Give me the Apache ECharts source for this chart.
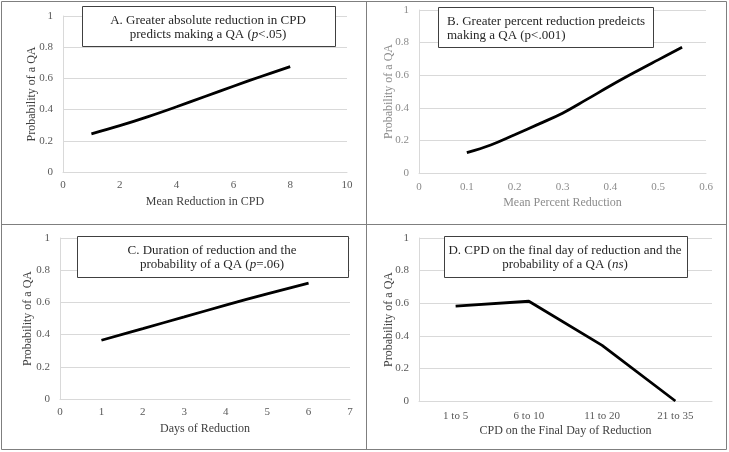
<!DOCTYPE html>
<html>
<head>
<meta charset="utf-8">
<script src="https://cdn.jsdelivr.net/npm/echarts@6/dist/echarts.min.js"></script>
<style>
html,body{margin:0;padding:0;background:#fff;}
#chart{width:729px;height:452px;}
</style>
</head>
<body>
<div id="chart"></div>
<script>
// Panel A: Mean Reduction in CPD
var aX = [1, 2, 3, 4, 5, 6, 7, 8];
var aY = [0.245, 0.297, 0.355, 0.418, 0.484, 0.55, 0.614, 0.675];
// Panel B: Mean Percent Reduction
var bX = [0.1, 0.15, 0.2, 0.25, 0.3, 0.35, 0.4, 0.45, 0.5, 0.55];
var bY = [0.125, 0.172, 0.235, 0.300, 0.367, 0.450, 0.535, 0.616, 0.694, 0.771];
// Panel C: Days of Reduction
var cX = [1, 2, 3, 4, 5, 6];
var cY = [0.365, 0.437, 0.51, 0.583, 0.653, 0.72];
// Panel D: CPD on the Final Day of Reduction
var dCats = ['1 to 5', '6 to 10', '11 to 20', '21 to 35'];
var dY = [0.582, 0.612, 0.341, 0.0];

var yTitle = 'Probability of a QA';
var xTitles = ['Mean Reduction in CPD', 'Mean Percent Reduction', 'Days of Reduction', 'CPD on the Final Day of Reduction'];

var FONT = '"Liberation Serif", "DejaVu Serif", serif';
var dark = '#595959', darkName = '#404040', light = '#8c8c8c';
var gridC = '#d9d9d9';

function pairs(xs, ys){ return xs.map(function(x,i){return [x, ys[i]];}); }

function yAx(idx, color, gap, margin){
  return {
    gridIndex: idx, type: 'value', min: 0, max: 1, interval: 0.2,
    name: yTitle, nameLocation: 'middle', nameRotate: 90, nameGap: gap,
    nameMoveOverlap: false,
    nameTextStyle: {color: color.name, fontFamily: FONT, fontSize: 12},
    axisLine: {show: true, lineStyle: {color: gridC, width: 1}},
    axisTick: {show: false},
    axisLabel: {color: color.tick, fontFamily: FONT, fontSize: 11, margin: margin},
    splitLine: {show: true, lineStyle: {color: gridC, width: 1}}
  };
}
function xAx(idx, opts, color, margin, gap){
  var o = {
    gridIndex: idx,
    name: xTitles[idx], nameLocation: 'middle', nameGap: gap,
    nameMoveOverlap: false,
    nameTextStyle: {color: color.name, fontFamily: FONT, fontSize: 12},
    axisLine: {show: true, onZero: false, lineStyle: {color: gridC, width: 1}},
    axisTick: {show: false},
    axisLabel: {color: color.tick, fontFamily: FONT, fontSize: 11, margin: margin},
    splitLine: {show: false}
  };
  for (var k in opts) o[k] = opts[k];
  return o;
}
var cDark = {tick: dark, name: darkName};
var cLight = {tick: light, name: light};

function titleBox(x, y, w, h, lines, align, textX){
  var children = [{
    type: 'rect', z: 100, shape: {x: x + 0.5, y: y + 0.5, width: w, height: h},
    style: {fill: '#fff', stroke: '#404040', lineWidth: 1}
  }];
  lines.forEach(function(l, i){
    children.push({
      type: 'text', z: 101, x: textX, y: y + 15 + i * 14,
      style: {
        text: l, fill: '#262626', font: '13px ' + FONT,
        align: align, verticalAlign: 'middle',
        rich: {
          n: {fontFamily: FONT, fontSize: 13, fill: '#262626'},
          i: {fontFamily: FONT, fontSize: 13, fontStyle: 'italic', fill: '#262626'}
        }
      }
    });
  });
  return {type: 'group', children: children, z: 100};
}

var lineStyle = {color: '#000', width: 2.8};

var option = {
  animation: false,
  backgroundColor: '#fff',
  grid: [
    {left: 63, top: 16, width: 284, height: 156},
    {left: 419, top: 10, width: 287, height: 163},
    {left: 60, top: 238, width: 290, height: 161},
    {left: 419, top: 238, width: 293, height: 163}
  ],
  xAxis: [
    xAx(0, {type: 'value', min: 0, max: 10, interval: 2}, cDark, 8, 24),
    xAx(1, {type: 'value', min: 0, max: 0.6, interval: 0.1}, cLight, 9, 24),
    xAx(2, {type: 'value', min: 0, max: 7, interval: 1}, cDark, 8, 24),
    xAx(3, {type: 'category', data: dCats, boundaryGap: true}, cDark, 10, 24)
  ],
  yAxis: [
    yAx(0, cDark, 25, 10),
    yAx(1, cLight, 24, 10),
    yAx(2, cDark, 26, 10),
    yAx(3, cDark, 24, 10)
  ],
  series: [
    {type: 'line', xAxisIndex: 0, yAxisIndex: 0, data: pairs(aX, aY), smooth: 0.4, showSymbol: false, lineStyle: lineStyle},
    {type: 'line', xAxisIndex: 1, yAxisIndex: 1, data: pairs(bX, bY), smooth: 0.4, showSymbol: false, lineStyle: lineStyle},
    {type: 'line', xAxisIndex: 2, yAxisIndex: 2, data: pairs(cX, cY), smooth: 0.4, showSymbol: false, lineStyle: lineStyle},
    {type: 'line', xAxisIndex: 3, yAxisIndex: 3, data: dY, smooth: false, showSymbol: false, lineStyle: lineStyle}
  ],
  graphic: [
    {type: 'rect', shape: {x: 1.5, y: 1.5, width: 725, height: 448}, style: {fill: 'none', stroke: '#7f7f7f', lineWidth: 1}, z: 50},
    {type: 'line', shape: {x1: 366.5, y1: 1.5, x2: 366.5, y2: 449.5}, style: {stroke: '#7f7f7f', lineWidth: 1}, z: 50},
    {type: 'line', shape: {x1: 1.5, y1: 224.5, x2: 726.5, y2: 224.5}, style: {stroke: '#7f7f7f', lineWidth: 1}, z: 50},
    titleBox(82, 6, 253, 40, ['{n|A. Greater absolute reduction in CPD}', '{n|predicts making a QA (}{i|p}{n|<.05)}'], 'center', 208),
    titleBox(438, 7, 215, 40, ['{n|B. Greater percent reduction predeicts}', '{n|making a QA (p<.001)}'], 'left', 447),
    titleBox(77, 236, 271, 41, ['{n|C. Duration of reduction and the}', '{n|probability of a QA (}{i|p}{n|=.06)}'], 'center', 212),
    titleBox(444, 236, 243, 41, ['{n|D. CPD on the final day of reduction and the}', '{n|probability of a QA (}{i|ns}{n|)}'], 'center', 565)
  ]
};

var chart = echarts.init(document.getElementById('chart'), null, {renderer: 'canvas'});
chart.setOption(option);
</script>
</body>
</html>
